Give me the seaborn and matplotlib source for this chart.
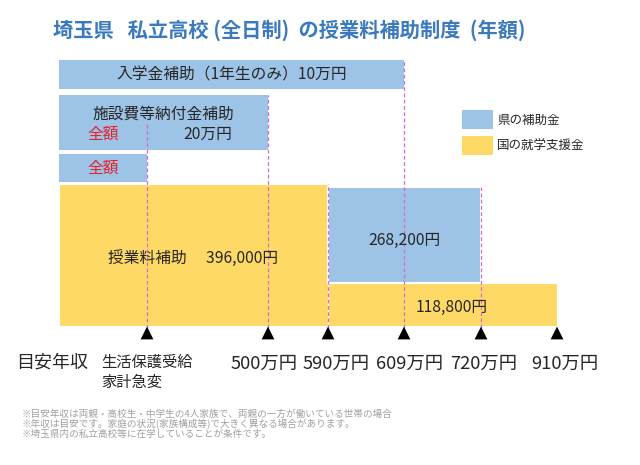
import matplotlib
matplotlib.use("Agg")
import matplotlib.pyplot as plt
from matplotlib.patches import Patch
import seaborn as sns
import pandas as pd

sns.set_theme(style="white")
plt.rcParams['font.family'] = ['Noto Sans CJK JP', 'DejaVu Sans']

# ---------------- data ----------------
title = "埼玉県   私立高校 (全日制)  の授業料補助制度  (年額)"
income_labels = ["生活保護受給\n家計急変", "500万円", "590万円", "609万円", "720万円", "910万円"]
axis_title = "目安年収"

# tuition support (yen): national support below 590万円, split support 590–910万円
tuition_low_national = 396000
tuition_mid_pref = 268200
tuition_mid_national = 118800

# upper subsidies (end index into income_labels)
enroll_text = "入学金補助（1年生のみ）10万円"
enroll_end = 3          # up to 609万円
facility_text = "施設費等納付金補助"
facility_amount_text = "20万円"
facility_end = 1        # up to 500万円
full_text = "全額"
full_end = 0            # 生活保護受給・家計急変
tuition_low_end = 2     # up to 590万円
tuition_pref_end = 4    # up to 720万円
tuition_nat_end = 5     # up to 910万円

legend_labels = ["県の補助金", "国の就学支援金"]
notes = [
    "※目安年収は両親・高校生・中学生の4人家族で、両親の一方が働いている世帯の場合",
    "※年収は目安です。家庭の状況(家族構成等)で大きく異なる場合があります。",
    "※埼玉県内の私立高校等に在学していることが条件です。",
]

# ---------------- layout / style ----------------
BLUE = "#9DC3E6"
YELLOW = "#FFD966"
RED = "#E3232B"
DASH = "#D36BD3"
TXT = "#262626"
TITLE_C = "#3A7ABD"

tick_pos = [88, 209, 269, 345, 422, 498]        # horizontal placement of thresholds
edges = [0] + tick_pos
label_dx = [0, -4, 8, 6, 3, 8]                   # nudges of the income labels
PX = 3.586                                       # px per 万円 (vertical scale)
def py(p):                                       # helper: figure pixel row -> y units
    return (326 - p) / PX

row_enroll = (py(89), py(60) - py(89))
row_fac = (py(150), py(95) - py(150))
row_full = (py(182), py(154) - py(182))

fig = plt.figure(figsize=(6.4, 4.65), dpi=100)
fig.patch.set_facecolor("white")
ax = fig.add_axes([59 / 640, 0, 581 / 640, 1])

man = lambda v: v / 10000.0

# upper rows (prefecture)
def row_bar(end, row):
    ax.bar(edges[0], row[1], width=edges[end + 1] - edges[0], bottom=row[0],
           align="edge", color=BLUE, linewidth=0, zorder=1)

row_bar(enroll_end, row_enroll)
row_bar(facility_end, row_fac)
row_bar(full_end, row_full)

# tuition stack
ax.bar(edges[0], man(tuition_low_national), width=edges[tuition_low_end + 1] - edges[0],
       bottom=0, align="edge", color=YELLOW, edgecolor="white", linewidth=0.8, zorder=1)
ax.bar(edges[tuition_low_end + 1], man(tuition_mid_national),
       width=edges[tuition_nat_end + 1] - edges[tuition_low_end + 1],
       bottom=0, align="edge", color=YELLOW, edgecolor="white", linewidth=0.8, zorder=1)
ax.bar(edges[tuition_low_end + 1], man(tuition_mid_pref),
       width=edges[tuition_pref_end + 1] - edges[tuition_low_end + 1],
       bottom=man(tuition_mid_national), align="edge",
       color=BLUE, edgecolor="white", linewidth=1.5, zorder=1)

# dashed guide lines
ybot = py(328)
tops = [row_fac[0] + row_fac[1] / 2, row_fac[0] + row_fac[1], man(tuition_low_national),
        row_enroll[0] + row_enroll[1], man(tuition_mid_national) + man(tuition_mid_pref)]
for x, t in zip(tick_pos[:5], tops):
    ax.plot([x, x], [ybot, t], color=DASH, lw=0.9, ls=(0, (3, 2)), zorder=3)

# triangles
tri = pd.DataFrame({"x": tick_pos, "y": [py(333)] * len(tick_pos)})
sns.scatterplot(data=tri, x="x", y="y", marker="^", s=85, color="black",
                edgecolor="none", ax=ax, zorder=4, clip_on=False, legend=False)
ax.set_xlabel("")
ax.set_ylabel("")
ax.set_xlim(0, 581)
ax.set_ylim(py(465), py(0))
ax.axis("off")

# bar texts
fs = 11.3
def mid(a, b):
    return (edges[a] + edges[b]) / 2

ax.text(mid(0, enroll_end + 1), row_enroll[0] + row_enroll[1] / 2, enroll_text,
        ha="center", va="center", fontsize=fs, color=TXT, zorder=5)
ax.text(mid(0, facility_end + 1), py(114), facility_text,
        ha="center", va="center", fontsize=fs, color=TXT, zorder=5)
ax.text(mid(0, full_end + 1), py(134), full_text,
        ha="center", va="center", fontsize=fs, color=RED, zorder=5)
ax.text(mid(full_end + 1, facility_end + 1), py(134), facility_amount_text,
        ha="center", va="center", fontsize=fs, color=TXT, zorder=5)
ax.text(mid(0, full_end + 1), row_full[0] + row_full[1] / 2, full_text,
        ha="center", va="center", fontsize=fs, color=RED, zorder=5)
ax.text(mid(0, tuition_low_end + 1), py(258),
        "授業料補助　 " + f"{tuition_low_national:,}円",
        ha="center", va="center", fontsize=fs, color=TXT, zorder=5)
ax.text(mid(tuition_low_end + 1, tuition_pref_end + 1), py(240), f"{tuition_mid_pref:,}円",
        ha="center", va="center", fontsize=fs, color=TXT, zorder=5)
ax.text(mid(tuition_low_end + 1, tuition_nat_end + 1) + 9, py(307), f"{tuition_mid_national:,}円",
        ha="center", va="center", fontsize=fs, color=TXT, zorder=5)

# income labels
for i, (x, lab) in enumerate(zip(tick_pos, income_labels)):
    if "\n" in lab:
        ax.text(x + label_dx[i], py(372.5), lab, ha="center", va="center",
                multialignment="left", fontsize=11, color=TXT, linespacing=1.2,
                clip_on=False)
    else:
        ax.text(x + label_dx[i], py(364), lab, ha="center", va="center",
                fontsize=13.2, color=TXT, clip_on=False)
fig.text(52.5 / 640, 1 - 363 / 465, axis_title, ha="center", va="center",
         fontsize=13, color=TXT)

# title
fig.text(53 / 640, 1 - 30 / 465, title, ha="left", va="center", fontsize=14.6,
         fontweight="bold", color=TITLE_C)

# legend
handles = [Patch(facecolor=BLUE, edgecolor="none"), Patch(facecolor=YELLOW, edgecolor="none")]
fig.legend(handles, legend_labels, loc="upper left",
           bbox_to_anchor=(462 / 640, 1 - 110 / 465), frameon=False,
           fontsize=9, handlelength=2.5, handleheight=2.0, labelspacing=0.55,
           handletextpad=0.3, borderpad=0, borderaxespad=0, labelcolor=TXT)

# notes
for k, n in enumerate(notes):
    fig.text(22 / 640, 1 - (414 + 10 * k) / 465, n, ha="left", va="center",
             fontsize=6.9, color="#A0A0A0")

fig.savefig("out.png", dpi=100, facecolor="white")
